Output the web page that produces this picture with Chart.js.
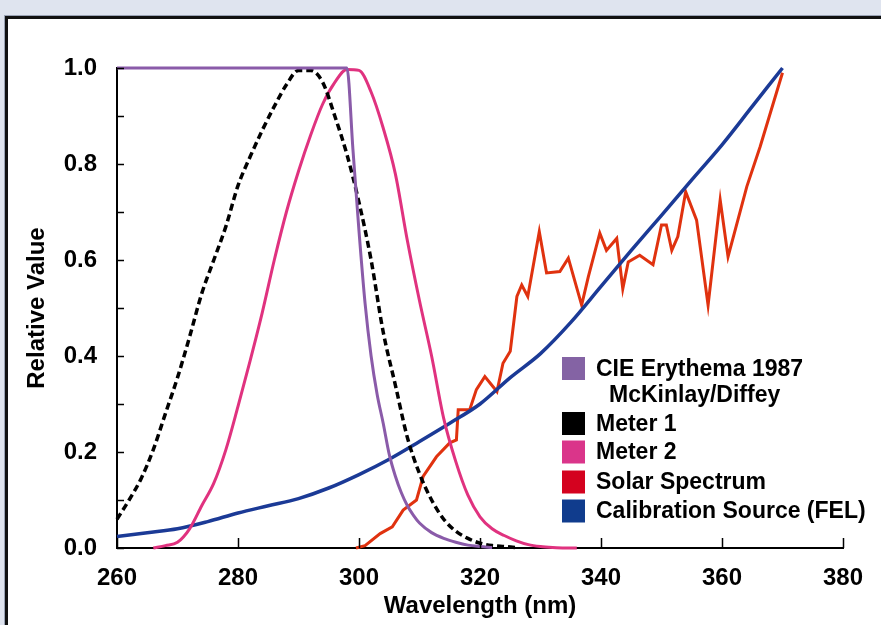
<!DOCTYPE html>
<html>
<head>
<meta charset="utf-8">
<script src="https://cdn.jsdelivr.net/npm/chart.js@4.4.0/dist/chart.umd.min.js"></script>
<style>
  html, body { margin: 0; padding: 0; }
  body { width: 881px; height: 625px; overflow: hidden; background: #dfe4ef; position: relative; }
  #frame { position: absolute; left: 5px; top: 16px; width: 920px; height: 660px; background: #fff;
           border-top: 3px solid #111; border-left: 3px solid #111; box-shadow: -1px -1px 0 #9aa3b5; }
  #myChart { position: absolute; left: 0; top: 0; }
</style>
</head>
<body>
<div id="frame"></div>
<canvas id="myChart" width="881" height="625"></canvas>
<script>
// CIE erythema action spectrum (McKinlay/Diffey)
var cieNm  = [260, 298, 299, 300, 301, 302, 303, 304, 305, 306, 307, 308, 309, 310, 312, 314, 316, 318, 320, 322];
var cieVal = [1.0, 1.0, 0.83, 0.66, 0.51, 0.40, 0.32, 0.26, 0.195, 0.15, 0.115, 0.088, 0.068, 0.052, 0.032, 0.02, 0.012, 0.006, 0.003, 0.001];

// Meter 1 (dashed)
var meter1Nm  = [260, 262, 264, 266, 268, 270, 272, 274, 276, 278, 280, 282, 284, 286, 288, 290, 292,
                 294, 296, 298, 300, 302, 304, 306, 308, 310, 312, 314, 316, 318, 320, 322, 324, 326];
var meter1Val = [0.06, 0.10, 0.145, 0.205, 0.28, 0.355, 0.44, 0.53, 0.60, 0.67, 0.755, 0.815, 0.87, 0.92, 0.965, 0.995, 0.995,
                 0.97, 0.90, 0.82, 0.72, 0.60, 0.45, 0.34, 0.23, 0.155, 0.10, 0.06, 0.035, 0.02, 0.01, 0.005, 0.003, 0.001];

// Meter 2
var meter2Nm  = [266, 268, 270, 272, 274, 276, 278, 280, 282, 284, 286, 288, 290, 292, 294, 296, 298, 300,
                 302, 304, 306, 308, 310, 312, 314, 316, 318, 320, 322, 324, 326, 328, 330, 332, 334, 336];
var meter2Val = [0.0, 0.005, 0.012, 0.04, 0.088, 0.135, 0.205, 0.295, 0.39, 0.49, 0.60, 0.70, 0.785, 0.86, 0.925, 0.97, 0.997, 0.995,
                 0.95, 0.875, 0.78, 0.64, 0.515, 0.40, 0.27, 0.18, 0.11, 0.065, 0.04, 0.026, 0.015, 0.007, 0.003, 0.001, 0.0, 0.0];

// Solar spectrum
var solarNm  = [299.5, 301, 303.5, 305.5, 307.3, 309.5, 310.6, 312.8, 315, 316.1, 316.4, 318.3, 319.4, 320.8, 322.8,
                323.8, 325, 326.1, 326.9, 327.9, 329.8, 331, 333.2, 334.6, 336.8, 337.9, 339.8, 340.9, 342.6, 343.6,
                344.5, 346.4, 348.6, 350, 350.8, 351.7, 352.7, 354, 355.8, 357.7, 359.7, 361, 364.1, 366.3, 370];
var solarVal = [0.0, 0.005, 0.03, 0.044, 0.079, 0.10, 0.149, 0.19, 0.219, 0.225, 0.288, 0.288, 0.33, 0.357, 0.326,
                0.385, 0.41, 0.524, 0.548, 0.524, 0.659, 0.573, 0.576, 0.604, 0.506, 0.565, 0.656, 0.62, 0.645, 0.54,
                0.596, 0.61, 0.59, 0.673, 0.673, 0.62, 0.649, 0.742, 0.683, 0.506, 0.725, 0.607, 0.753, 0.836, 0.99];

// Calibration source (FEL lamp)
var calNm  = [260, 265, 270, 275, 280, 285, 290, 295, 300, 305, 310, 315, 320, 325, 330, 335, 340, 345, 350, 355, 360, 365, 370];
var calVal = [0.024, 0.032, 0.040, 0.055, 0.073, 0.088, 0.103, 0.125, 0.153, 0.185, 0.222, 0.26, 0.30, 0.355, 0.405, 0.47,
              0.545, 0.62, 0.693, 0.767, 0.84, 0.92, 1.0];

var legendLabels = ['CIE Erythema 1987', 'Meter 1', 'Meter 2', 'Solar Spectrum', 'Calibration Source (FEL)'];
var legendColors = ['#8463a4', '#000000', '#da358a', '#d4021f', '#103c8d'];

function toPoints(xs, ys) {
  var pts = [];
  for (var i = 0; i < xs.length; i++) {
    pts.push({ x: xs[i], y: ys[i] });
  }
  return pts;
}

var fontFamily = "'Liberation Sans', Arial, sans-serif";

// small tick marks pointing into the plot
const innerTicks = {
  id: 'innerTicks',
  afterDatasetsDraw(chart) {
    var ctx = chart.ctx;
    var a = chart.chartArea;
    var xs = chart.scales.x;
    var ys = chart.scales.y;
    ctx.save();
    ctx.strokeStyle = '#000';
    ctx.lineWidth = 1.5;
    ctx.beginPath();
    xs.ticks.forEach(function (t) {
      var px = Math.round(xs.getPixelForValue(t.value)) + 0.5;
      ctx.moveTo(px, a.bottom);
      ctx.lineTo(px, a.bottom - 10);
    });
    ys.ticks.forEach(function (t) {
      var py = Math.round(ys.getPixelForValue(t.value)) + 0.5;
      ctx.moveTo(a.left, py);
      ctx.lineTo(a.left + 7, py);
    });
    ctx.stroke();
    ctx.restore();
  }
};

// legend box drawn inside the plot, lower right
const boxLegend = {
  id: 'boxLegend',
  afterDraw(chart) {
    var ctx = chart.ctx;
    var rows = [368.5, 423.5, 452, 482, 511];
    ctx.save();
    ctx.font = 'bold 23px ' + fontFamily;
    ctx.textBaseline = 'middle';
    ctx.textAlign = 'left';
    for (var i = 0; i < legendLabels.length; i++) {
      ctx.fillStyle = legendColors[i];
      ctx.fillRect(562, rows[i] - 11.5, 23, 23);
      ctx.fillStyle = '#000';
      ctx.fillText(legendLabels[i], 596, rows[i] + 1);
    }
    ctx.fillText('McKinlay/Diffey', 609, 396);
    ctx.restore();
  }
};

const config = {
  type: 'line',
  data: {
    datasets: [
      { label: 'CIE Erythema 1987', data: toPoints(cieNm, cieVal), borderColor: '#8a5ba9', borderWidth: 3,
        cubicInterpolationMode: 'monotone' },
      { label: 'Meter 1', data: toPoints(meter1Nm, meter1Val), borderColor: '#000000', borderWidth: 3.5,
        borderDash: [7, 4], cubicInterpolationMode: 'monotone' },
      { label: 'Meter 2', data: toPoints(meter2Nm, meter2Val), borderColor: '#e0327f', borderWidth: 3,
        cubicInterpolationMode: 'monotone' },
      { label: 'Calibration Source (FEL)', data: toPoints(calNm, calVal), borderColor: '#1b3a96', borderWidth: 3.5,
        cubicInterpolationMode: 'monotone' },
      { label: 'Solar Spectrum', data: toPoints(solarNm, solarVal), borderColor: '#e0320f', borderWidth: 3,
        tension: 0 }
    ]
  },
  options: {
    responsive: false,
    animation: false,
    clip: false,
    elements: { point: { radius: 0 } },
    layout: { padding: { left: 0, top: 68, right: 38, bottom: 0 } },
    plugins: { legend: { display: false }, tooltip: { enabled: false } },
    scales: {
      x: {
        type: 'linear',
        min: 260,
        max: 380,
        afterFit: function (scale) { scale.height = 77; },
        grid: { display: false, drawTicks: false },
        border: { display: true, color: '#000', width: 2 },
        ticks: { stepSize: 20, color: '#000', padding: 16, maxRotation: 0,
                 font: { family: fontFamily, size: 24, weight: 'bold' } },
        title: { display: true, text: 'Wavelength (nm)', color: '#000', padding: { top: 0, bottom: 4 },
                 font: { family: fontFamily, size: 24, weight: 'bold' } }
      },
      y: {
        min: 0,
        max: 1,
        afterFit: function (scale) { scale.width = 117; },
        grid: { display: false, drawTicks: false },
        border: { display: true, color: '#000', width: 2 },
        ticks: {
          stepSize: 0.1, color: '#000', padding: 20, autoSkip: false,
          font: { family: fontFamily, size: 24, weight: 'bold' },
          callback: function (v) {
            var k = Math.round(v * 10);
            return k % 2 === 0 ? (k / 10).toFixed(1) : '';
          }
        },
        title: { display: true, text: 'Relative Value', color: '#000', padding: { top: 23, bottom: 0 },
                 font: { family: fontFamily, size: 24, weight: 'bold' } }
      }
    }
  },
  plugins: [innerTicks, boxLegend]
};

const myChart = new Chart(document.getElementById('myChart'), config);
</script>
</body>
</html>
